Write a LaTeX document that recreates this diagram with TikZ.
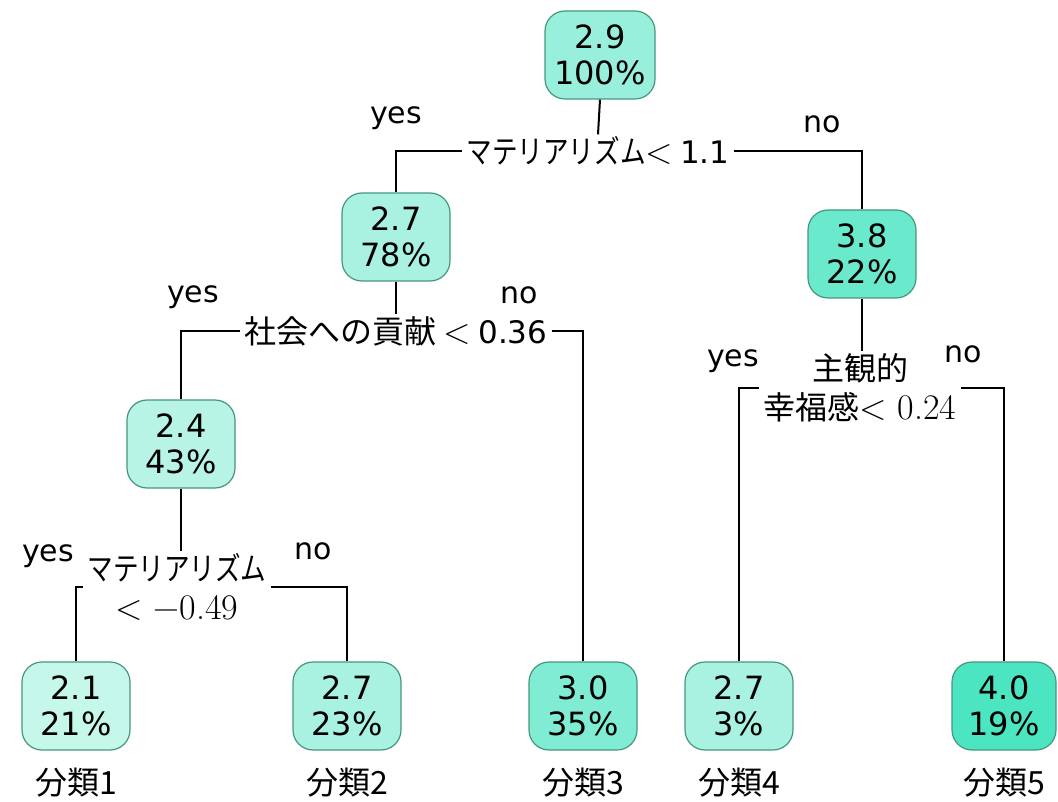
\documentclass[tikz,border=0pt]{standalone}
\usepackage{graphicx}
\usepackage{fontspec}
\newfontfamily\jp{Noto Sans CJK JP}
\newfontfamily\vd{DejaVu Sans}
\definecolor{tq}{RGB}{50,225,185}
\definecolor{bordc}{RGB}{70,150,125}
\tikzset{
  tnode/.style={draw=bordc, line width=1.2pt, rounded corners=20pt,
    minimum width=108pt, minimum height=88pt, align=center, inner sep=0pt,
    font=\vd\fontsize{32}{36}\selectfont},
  cond/.style={align=center, inner xsep=4pt, inner ysep=2pt,
    font=\jp\fontsize{32}{39}\selectfont},
  yn/.style={font=\vd\fontsize{30}{36}\selectfont, inner sep=0pt},
  cls/.style={font=\jp\fontsize{32}{36}\selectfont, inner sep=0pt},
  conn/.style={line width=2pt, black}
}
\newcommand{\kata}{\scalebox{0.8}[1]{マテリアリズム}}
\newcommand{\srf}[1]{{\rmfamily\fontsize{36}{39}\selectfont #1}}
\newcommand{\snum}[1]{{\vd\fontsize{31}{39}\selectfont #1}}
\begin{document}
\begin{tikzpicture}[x=1pt,y=-1pt]
\useasboundingbox (0,0) rectangle (1058,802);
% nodes
\node[tnode, fill=tq!50, minimum width=110pt] (root) at (600,55) {2.9\\100\%};
\node[cond] (c1) at (598,151) {\kata\srf{<} \snum{1.1}};
\node[tnode, fill=tq!42] (n2) at (396,237) {2.7\\78\%};
\node[tnode, fill=tq!72] (n3) at (862,254) {3.8\\22\%};
\node[cond] (c2) at (396,331) {社会への貢献 \srf{<} \snum{0.36}};
\node[tnode, fill=tq!35] (n4) at (181,444) {2.4\\43\%};
\node[cond] (c3) at (177,587) {\kata\\\srf{< −0.49}};
\node[cond] (c4) at (860,388) {主観的\\幸福感\srf{< 0.24}};
\node[tnode, fill=tq!28] (l1) at (76,706) {2.1\\21\%};
\node[tnode, fill=tq!42] (l2) at (347,706) {2.7\\23\%};
\node[tnode, fill=tq!62] (l3) at (583,706) {3.0\\35\%};
\node[tnode, fill=tq!42] (l4) at (739,706) {2.7\\3\%};
\node[tnode, fill=tq!88, minimum width=104pt] (l5) at (1004,706) {4.0\\19\%};
% yes/no
\node[yn] (y1) at (396,118) {yes};
\node[yn] (o1) at (822,124) {no};
\node[yn] (y2) at (193,297) {yes};
\node[yn] (o2) at (519,295) {no};
\node[yn] (y3) at (48,556) {yes};
\node[yn] (o3) at (313,551) {no};
\node[yn] (y4) at (733,361) {yes};
\node[yn] (o4) at (963,354) {no};
% class labels
\node[cls] (k1) at (76,783) {分類1};
\node[cls] (k2) at (347,783) {分類2};
\node[cls] (k3) at (583,783) {分類3};
\node[cls] (k4) at (739,783) {分類4};
\node[cls] (k5) at (1004,783) {分類5};
% connectors
\draw[conn] (root.south) -- (c1.north);
\draw[conn] (c1.west) -| (n2.north);
\draw[conn] (c1.east) -| (n3.north);
\draw[conn] (n2.south) -- (n2.south |- c2.north);
\draw[conn] (c2.west) -| (n4.north);
\draw[conn] (c2.east) -| (l3.north);
\draw[conn] (n4.south) -- (n4.south |- c3.north);
\draw[conn] (c3.west) -| (l1.north);
\draw[conn] (c3.east) -| (l2.north);
\draw[conn] (n3.south) -- (n3.south |- c4.north);
\draw[conn] (c4.west) -| (l4.north);
\draw[conn] (c4.east) -| (l5.north);
\end{tikzpicture}
\end{document}
